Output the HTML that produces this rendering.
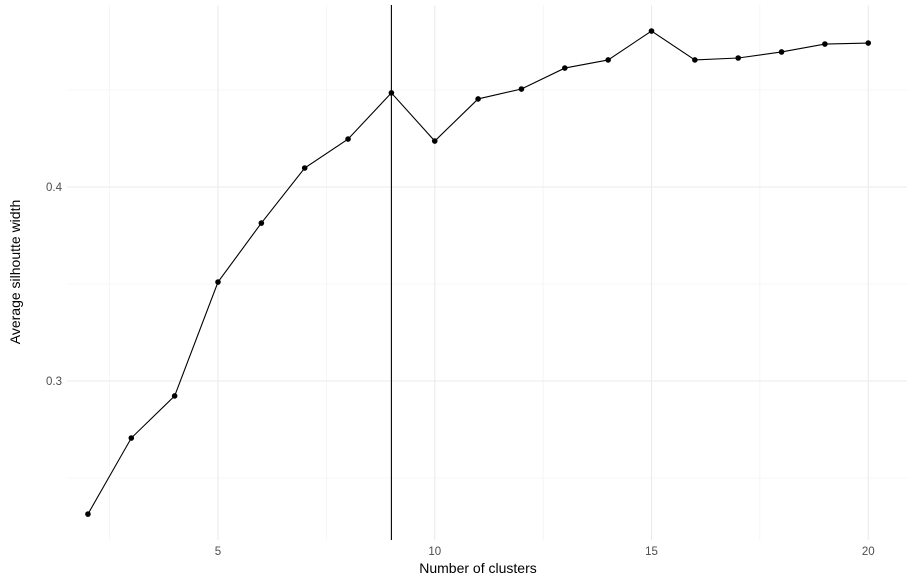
<!DOCTYPE html>
<html><head><meta charset="utf-8"><style>
body{margin:0;background:#fff;}
svg{display:block;font-family:"Liberation Sans",sans-serif;}
</style></head><body>
<svg id="chart" width="915" height="583">
<g id="grid"></g>
<g id="marks"></g>
<g id="axes"></g>
<text x="478" y="573" text-anchor="middle" font-size="14" fill="#000">Number of clusters</text>
<text transform="translate(20,272) rotate(-90)" text-anchor="middle" font-size="14" fill="#000">Average silhoutte width</text>
</svg>
<script>
const clusters=[2,3,4,5,6,7,8,9,10,11,12,13,14,15,16,17,18,19,20];
const widths=[0.2314,0.2706,0.2923,0.351,0.3814,0.4098,0.4247,0.4485,0.4237,0.4454,0.4505,0.4613,0.4655,0.4804,0.4655,0.4665,0.4696,0.4737,0.4742];
const xTicks=[5,10,15,20];
const xMinor=[2.5,7.5,12.5,17.5];
const yTicks=[0.3,0.4];
const yMinor=[0.25,0.35,0.45];
const optimalK=9;
const NS="http://www.w3.org/2000/svg";
const X0=67,X1=907,Y0=5,Y1=540;
const sx=v=>218+(v-5)*43.35;
const sy=v=>381-(v-0.3)*1940;
function mk(tag,attrs,parent){const e=document.createElementNS(NS,tag);for(const k in attrs)e.setAttribute(k,attrs[k]);parent.appendChild(e);return e;}
const grid=document.getElementById('grid'),marks=document.getElementById('marks'),axes=document.getElementById('axes');
xMinor.forEach(v=>{const l=mk('line',{x1:sx(v),x2:sx(v),y1:Y0,y2:Y1,stroke:'#f0f0f0','stroke-width':0.6},grid);

});
yMinor.forEach(v=>{const l=mk('line',{x1:X0,x2:X1,y1:sy(v),y2:sy(v),stroke:'#f0f0f0','stroke-width':0.6},grid);

});
xTicks.forEach(v=>{const l=mk('line',{x1:sx(v),x2:sx(v),y1:Y0,y2:Y1,stroke:'#ebebeb','stroke-width':1.1},grid);


const t=mk('text',{x:sx(v),y:555,'text-anchor':'middle','font-size':11.5,fill:'#4d4d4d'},axes);t.textContent=v;

});
yTicks.forEach(v=>{const l=mk('line',{x1:X0,x2:X1,y1:sy(v),y2:sy(v),stroke:'#ebebeb','stroke-width':1.1},grid);


const t=mk('text',{x:62,y:sy(v)+4,'text-anchor':'end','font-size':11.5,fill:'#4d4d4d'},axes);t.textContent=v.toFixed(1);

});
const pts=clusters.map((c,i)=>sx(c)+','+sy(widths[i])).join(' ');
const pl=mk('polyline',{points:pts,fill:'none',stroke:'#000','stroke-width':1.1},marks);


clusters.forEach((c,i)=>{const p=mk('circle',{cx:sx(c),cy:sy(widths[i]),r:2.8,fill:'#000'},marks);

});
const vl=mk('line',{x1:sx(optimalK),x2:sx(optimalK),y1:Y0,y2:Y1,stroke:'#000','stroke-width':1.1},marks);


</script>
</body></html>
